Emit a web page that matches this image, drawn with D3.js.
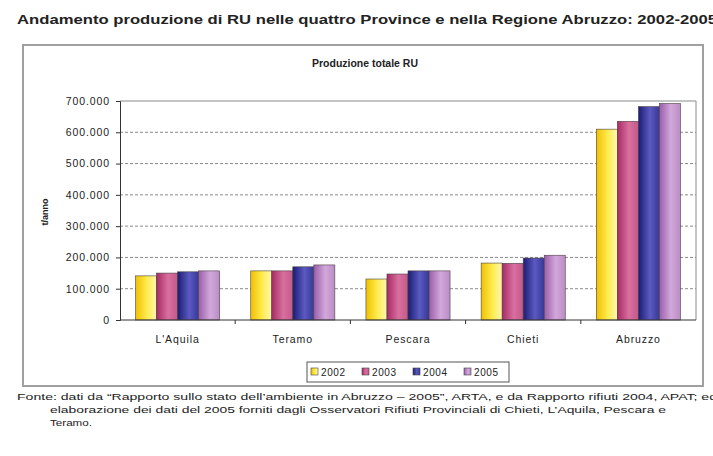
<!DOCTYPE html>
<html>
<head>
<meta charset="utf-8">
<script src="https://cdn.jsdelivr.net/npm/d3@7"></script>
<style>
  body { margin: 0; background: #fff; }
  text { font-family: "Liberation Sans", Arial, sans-serif; fill: #222; }
</style>
</head>
<body>
<svg id="chart"></svg>
<script>
// data (t/anno)
var categories = ["L'Aquila", "Teramo", "Pescara", "Chieti", "Abruzzo"];
var years = ["2002", "2003", "2004", "2005"];
var v2002 = [141000, 157000, 131000, 182000, 610000];
var v2003 = [150000, 157000, 147000, 181000, 635000];
var v2004 = [154000, 170000, 157000, 198000, 682000];
var v2005 = [157000, 176000, 157000, 207000, 692000];
var yTicks = [0, 100000, 200000, 300000, 400000, 500000, 600000, 700000];

var series = [v2002, v2003, v2004, v2005];

var width = 713, height = 456;
var margin = { top: 101, right: 17, bottom: 136, left: 120 };

var svg = d3.select("#chart")
  .attr("width", width)
  .attr("height", height);

// gradients, one per year (dark edge -> light -> mid)
var grads = [
  ["#f0c000", "#ffec50", "#fff6b0"],
  ["#a82a64", "#d8709f", "#c4588a"],
  ["#1c1c74", "#5a5ac0", "#38389a"],
  ["#9a5eaa", "#d2a8da", "#bb8cc6"]
];
var defs = svg.append("defs");
grads.forEach(function (g, i) {
  var lg = defs.append("linearGradient")
    .attr("id", "grad" + i)
    .attr("x1", "0%").attr("x2", "100%")
    .attr("y1", "0%").attr("y2", "0%");
  lg.append("stop").attr("offset", "0%").attr("stop-color", g[0]);
  lg.append("stop").attr("offset", "55%").attr("stop-color", g[1]);
  lg.append("stop").attr("offset", "100%").attr("stop-color", g[2]);
});

// main title
svg.append("text")
  .attr("x", 17)
  .attr("y", 24)
  .attr("textLength", 700)
  .attr("lengthAdjust", "spacingAndGlyphs")
  .style("font-size", "12.5px")
  .style("font-weight", "bold")
  .text("Andamento produzione di RU nelle quattro Province e nella Regione Abruzzo: 2002-2005");

// chart frame
svg.append("rect")
  .attr("x", 23).attr("y", 45)
  .attr("width", 680).attr("height", 341)
  .attr("fill", "#fff")
  .attr("stroke", "#a0a0a0")
  .attr("stroke-width", 2);

svg.append("text")
  .attr("x", 365)
  .attr("y", 67)
  .attr("text-anchor", "middle")
  .attr("textLength", 106)
  .attr("lengthAdjust", "spacingAndGlyphs")
  .style("font-size", "11.5px")
  .style("font-weight", "bold")
  .text("Produzione totale RU");

var x0 = d3.scaleBand()
  .domain(categories)
  .range([margin.left, width - margin.right])
  .paddingInner(0.27)
  .paddingOuter(0.135);

var x1 = d3.scaleBand()
  .domain(years)
  .range([0, x0.bandwidth()]);

var y = d3.scaleLinear()
  .domain([0, 700000])
  .range([height - margin.bottom, margin.top]);

var plotL = margin.left, plotR = width - margin.right, plotT = margin.top, plotB = height - margin.bottom;

// gridlines
svg.append("g")
  .selectAll("line")
  .data(yTicks.filter(function (d) { return d > 0 && d < 700000; }))
  .join("line")
  .attr("x1", plotL).attr("x2", plotR)
  .attr("y1", function (d) { return y(d); })
  .attr("y2", function (d) { return y(d); })
  .attr("stroke", "#8a8a8a")
  .attr("stroke-dasharray", "3,2");

// plot border top and right
svg.append("path")
  .attr("d", "M" + plotL + "," + plotT + "H" + plotR + "V" + plotB)
  .attr("fill", "none")
  .attr("stroke", "#8a8a8a");

// bars
var groups = svg.append("g")
  .selectAll("g")
  .data(categories)
  .join("g")
  .attr("transform", function (d) { return "translate(" + x0(d) + ",0)"; });

groups.selectAll("rect")
  .data(function (c, ci) {
    return years.map(function (yr, si) { return { year: yr, si: si, value: series[si][ci] }; });
  })
  .join("rect")
  .attr("x", function (d) { return x1(d.year); })
  .attr("y", function (d) { return y(d.value); })
  .attr("width", x1.bandwidth())
  .attr("height", function (d) { return y(0) - y(d.value); })
  .attr("fill", function (d) { return "url(#grad" + d.si + ")"; })
  .attr("stroke", "#4a4040")
  .attr("stroke-width", 0.6);

// y axis
var yAxis = d3.axisLeft(y)
  .tickValues(yTicks)
  .tickSize(4)
  .tickFormat(function (d) { return d === 0 ? "0" : d3.format(",")(d).replace(/,/g, "."); });

var gy = svg.append("g")
  .attr("transform", "translate(" + plotL + ",0)")
  .call(yAxis);
gy.select(".domain").attr("stroke", "#333");
gy.selectAll(".tick line").attr("stroke", "#333");
gy.selectAll(".tick text")
  .attr("x", -10)
  .style("font-size", "10.5px")
  .style("letter-spacing", "0.9px")
  .style("font-family", "Liberation Sans, Arial, sans-serif")
  .attr("fill", "#444");

// x axis
svg.append("line")
  .attr("x1", plotL).attr("x2", plotR)
  .attr("y1", plotB).attr("y2", plotB)
  .attr("stroke", "#333");

svg.append("g")
  .selectAll("line")
  .data(categories.slice(1))
  .join("line")
  .attr("x1", function (d) { return x0(d) - x0.step() * x0.paddingInner() / 2; })
  .attr("x2", function (d) { return x0(d) - x0.step() * x0.paddingInner() / 2; })
  .attr("y1", plotB).attr("y2", plotB + 4)
  .attr("stroke", "#333");

svg.append("g")
  .selectAll("text")
  .data(categories)
  .join("text")
  .attr("x", function (d) { return x0(d) + x0.bandwidth() / 2; })
  .attr("y", plotB + 23)
  .attr("text-anchor", "middle")
  .style("font-size", "10.5px")
  .style("letter-spacing", "0.9px")
  .text(function (d) { return d; });

// y label
svg.append("text")
  .attr("transform", "translate(48,212) rotate(-90)")
  .attr("text-anchor", "middle")
  .style("font-size", "9px")
  .style("font-weight", "bold")
  .text("t/anno");

// legend
var legend = svg.append("g").attr("transform", "translate(307,362)");
legend.append("rect")
  .attr("width", 202).attr("height", 20)
  .attr("fill", "#fff")
  .attr("stroke", "#555");
var li = legend.selectAll("g")
  .data(years)
  .join("g")
  .attr("transform", function (d, i) { return "translate(" + (4 + i * 51) + ",0)"; });
li.append("rect")
  .attr("x", 0).attr("y", 6)
  .attr("width", 7).attr("height", 7)
  .attr("fill", function (d, i) { return "url(#grad" + i + ")"; })
  .attr("stroke", "#444")
  .attr("stroke-width", 0.6);
li.append("text")
  .attr("x", 10).attr("y", 14)
  .style("font-size", "10px")
  .style("letter-spacing", "0.6px")
  .text(function (d) { return d; });

// source note
var notes = [
  { x: 17, y: 400, w: 700, t: "Fonte: dati da \u201CRapporto sullo stato dell\u2019ambiente in Abruzzo \u2013 2005\u201D, ARTA, e da Rapporto rifiuti 2004, APAT; ed" },
  { x: 50, y: 413, w: 616, t: "elaborazione dei dati del 2005 forniti dagli Osservatori Rifiuti Provinciali di Chieti, L\u2019Aquila, Pescara e" },
  { x: 50, y: 426, w: 42, t: "Teramo." }
];
svg.append("g")
  .selectAll("text")
  .data(notes)
  .join("text")
  .attr("x", function (d) { return d.x; })
  .attr("y", function (d) { return d.y; })
  .attr("textLength", function (d) { return d.w; })
  .attr("lengthAdjust", "spacingAndGlyphs")
  .style("font-size", "9.5px")
  .text(function (d) { return d.t; });
</script>
</body>
</html>
